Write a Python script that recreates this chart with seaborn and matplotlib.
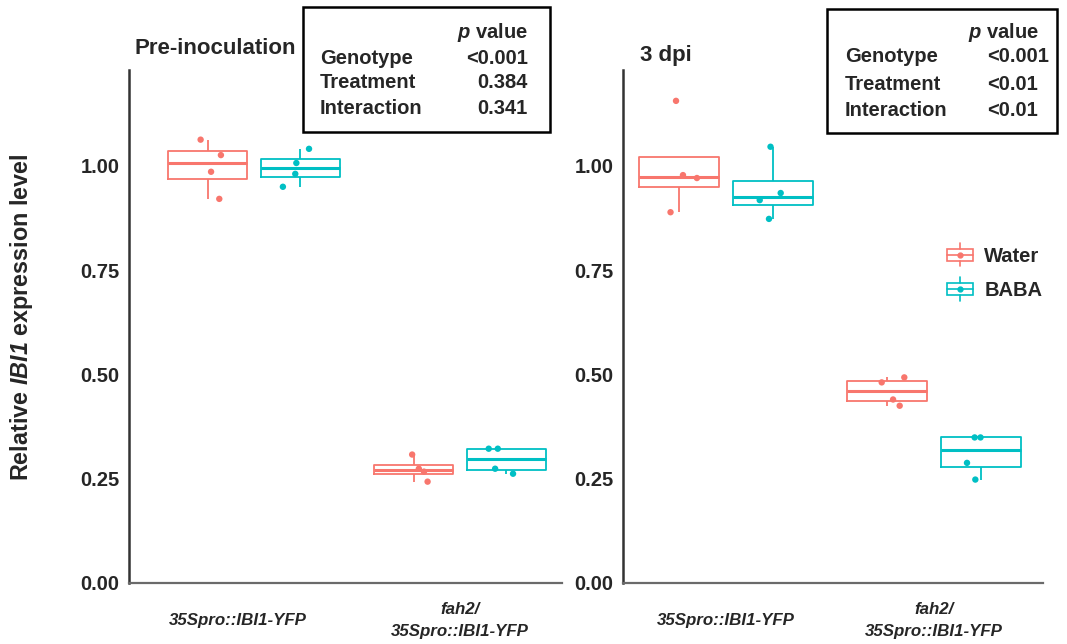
import numpy as np
import pandas as pd
import matplotlib
matplotlib.use("Agg")
import matplotlib.pyplot as plt
import seaborn as sns
from matplotlib.patches import Rectangle, Patch
from matplotlib.lines import Line2D
from matplotlib.legend_handler import HandlerBase
from matplotlib.transforms import ScaledTranslation

# ---------------- data ----------------
genotypes = ["35Spro::IBI1-YFP", "fah2/\n35Spro::IBI1-YFP"]
treatments = ["Water", "BABA"]

pre_35s_water = [1.063, 1.026, 0.986, 0.921]
pre_35s_baba = [1.041, 1.007, 0.981, 0.950]
pre_fah2_water = [0.308, 0.274, 0.267, 0.243]
pre_fah2_baba = [0.322, 0.322, 0.274, 0.262]

dpi3_35s_water = [1.156, 0.978, 0.971, 0.889]
dpi3_35s_baba = [1.046, 0.935, 0.918, 0.873]
dpi3_fah2_water = [0.493, 0.481, 0.440, 0.425]
dpi3_fah2_baba = [0.349, 0.349, 0.288, 0.248]

pvals_labels = ["Genotype", "Treatment", "Interaction"]
pvals_pre_values = ["<0.001", "0.384", "0.341"]
pvals_3dpi_values = ["<0.001", "<0.01", "<0.01"]

ytick_vals = [0.00, 0.25, 0.50, 0.75, 1.00]
ytick_labels = ["0.00", "0.25", "0.50", "0.75", "1.00"]

palette = {"Water": "#F8766D", "BABA": "#00BFC4"}


def make_df(groups):
    rows = []
    for (g, t), vals in groups.items():
        for v in vals:
            rows.append({"Genotype": g, "Treatment": t, "value": v})
    return pd.DataFrame(rows)


df_pre = make_df({
    (genotypes[0], "Water"): pre_35s_water,
    (genotypes[0], "BABA"): pre_35s_baba,
    (genotypes[1], "Water"): pre_fah2_water,
    (genotypes[1], "BABA"): pre_fah2_baba,
})
df_3 = make_df({
    (genotypes[0], "Water"): dpi3_35s_water,
    (genotypes[0], "BABA"): dpi3_35s_baba,
    (genotypes[1], "Water"): dpi3_fah2_water,
    (genotypes[1], "BABA"): dpi3_fah2_baba,
})

# ---------------- style ----------------
sns.set_style("white")
plt.rcParams["font.family"] = ["Liberation Sans", "DejaVu Sans"]
plt.rcParams["font.weight"] = "bold"
plt.rcParams["mathtext.fontset"] = "custom"
plt.rcParams["mathtext.rm"] = "Liberation Sans:bold"
plt.rcParams["mathtext.it"] = "Liberation Sans:italic:bold"
plt.rcParams["mathtext.bf"] = "Liberation Sans:bold"
plt.rcParams["mathtext.bfit"] = "Liberation Sans:italic:bold"

W, H = 1067, 644
fig = plt.figure(figsize=(W / 100, H / 100), dpi=100)


def fx(px):
    return px / W


def fy(py):
    return 1 - py / H


ax1 = fig.add_axes([fx(129), fy(583), fx(562) - fx(129), (583 - 70) / H])
ax2 = fig.add_axes([fx(623), fy(583), fx(1043) - fx(623), (583 - 70) / H])

np.random.seed(7)
for ax, df, xl in [(ax1, df_pre, (-0.607, 1.495)), (ax2, df_3, (-0.495, 1.524))]:
    sns.boxplot(data=df, x="Genotype", y="value", hue="Treatment",
                order=genotypes, hue_order=treatments, palette=palette,
                fill=False, width=0.9, gap=0.15, linewidth=1.3,
                showfliers=False, showcaps=False, whis=1.5,
                medianprops={"linewidth": 2.2}, legend=False, ax=ax)
    sns.stripplot(data=df, x="Genotype", y="value", hue="Treatment",
                  order=genotypes, hue_order=treatments, palette=palette,
                  dodge=True, jitter=0.14, size=4.6, linewidth=0,
                  legend=False, ax=ax, zorder=5)
    ax.set_xlim(*xl)
    ax.set_ylim(0, 1.23)
    ax.set_yticks(ytick_vals)
    ax.set_yticklabels(ytick_labels, fontsize=14.5, fontweight="bold")
    ax.set_xticks([0, 1])
    ax.set_xticklabels(genotypes, fontsize=12.2, fontweight="bold",
                       fontstyle="italic", linespacing=1.6, va="center")
    ax.tick_params(axis="x", length=3, width=1.2, pad=24, color="#333333")
    ax.tick_params(axis="y", length=4, width=1.2, pad=3, color="#333333")
    ax.set_xlabel("")
    ax.set_ylabel("")
    for s in ["top", "right"]:
        ax.spines[s].set_visible(False)
    ax.spines["left"].set_color("#333333")
    ax.spines["left"].set_linewidth(1.8)
    ax.spines["bottom"].set_color("#6a6a6a")
    ax.spines["bottom"].set_linewidth(1.6)

# first genotype label of the left panel sits a little left of its tick
lab0 = ax1.get_xticklabels()[0]
lab0.set_transform(lab0.get_transform() +
                   ScaledTranslation(-0.16, 0, fig.dpi_scale_trans))

# titles
fig.text(fx(135), fy(48), "Pre-inoculation", fontsize=16, fontweight="bold",
         ha="left", va="center")
fig.text(fx(640), fy(56), "3 dpi", fontsize=16, fontweight="bold",
         ha="left", va="center")

# y label
fig.text(fx(22), fy(317), r"Relative $\mathbfit{IBI1}$ expression level",
         rotation=90, fontsize=16.8, fontweight="bold", ha="center", va="center")


# p value boxes
def pbox(x0, y0, x1, y1, lab_x, val_x, val_ha, head_x, head_ha, ys, values):
    rect = Rectangle((fx(x0), fy(y1)), fx(x1) - fx(x0), (y1 - y0) / H,
                     transform=fig.transFigure, facecolor="white",
                     edgecolor="black", linewidth=1.8, zorder=10)
    fig.add_artist(rect)
    fig.text(fx(head_x), fy(ys[0]), r"$\mathit{p}$ value", fontsize=14.5,
             fontweight="bold", ha=head_ha, va="center", zorder=11)
    for lab, val, yy in zip(pvals_labels, values, ys[1:]):
        fig.text(fx(lab_x), fy(yy), lab, fontsize=14.5, fontweight="bold",
                 ha="left", va="center", zorder=11)
        fig.text(fx(val_x), fy(yy), val, fontsize=14.5, fontweight="bold",
                 ha=val_ha, va="center", zorder=11)


pbox(303, 7, 550, 132, 320, 528, "right", 528, "right",
     [32, 58, 83, 109], pvals_pre_values)
pbox(827, 9, 1057, 133, 845, 987, "left", 968, "left",
     [32, 57, 84, 110], pvals_3dpi_values)


# legend with mini box glyphs
class BoxHandler(HandlerBase):
    def create_artists(self, legend, orig_handle, xdescent, ydescent,
                       width, height, fontsize, trans):
        c = orig_handle.get_edgecolor()
        x0, y0 = -xdescent, -ydescent
        cx, cy = x0 + width / 2, y0 + height / 2
        bw, bh = width * 0.95, height * 0.62
        rect = Rectangle((cx - bw / 2, cy - bh / 2), bw, bh, facecolor="white",
                         edgecolor=c, linewidth=1.2, transform=trans)
        med = Line2D([cx - bw / 2, cx + bw / 2], [cy, cy], color=c, lw=1.2,
                     transform=trans)
        w1 = Line2D([cx, cx], [cy + bh / 2, y0 + height * 1.1], color=c,
                    lw=1.2, transform=trans)
        w2 = Line2D([cx, cx], [cy - bh / 2, y0 - height * 0.1], color=c,
                    lw=1.2, transform=trans)
        dot = Line2D([cx], [cy], marker="o", ms=3.5, color=c, lw=0,
                     transform=trans)
        return [rect, med, w1, w2, dot]


handles = [Patch(facecolor="white", edgecolor=palette[t], label=t)
           for t in treatments]
leg = fig.legend(handles=handles, labels=treatments,
                 handler_map={Patch: BoxHandler()}, frameon=False,
                 loc="upper left", bbox_to_anchor=(fx(938), fy(237)),
                 prop={"size": 14.5, "weight": "bold"},
                 handlelength=1.35, handleheight=1.1, handletextpad=0.55,
                 labelspacing=0.68, borderaxespad=0)

fig.savefig("out.png", dpi=100)
